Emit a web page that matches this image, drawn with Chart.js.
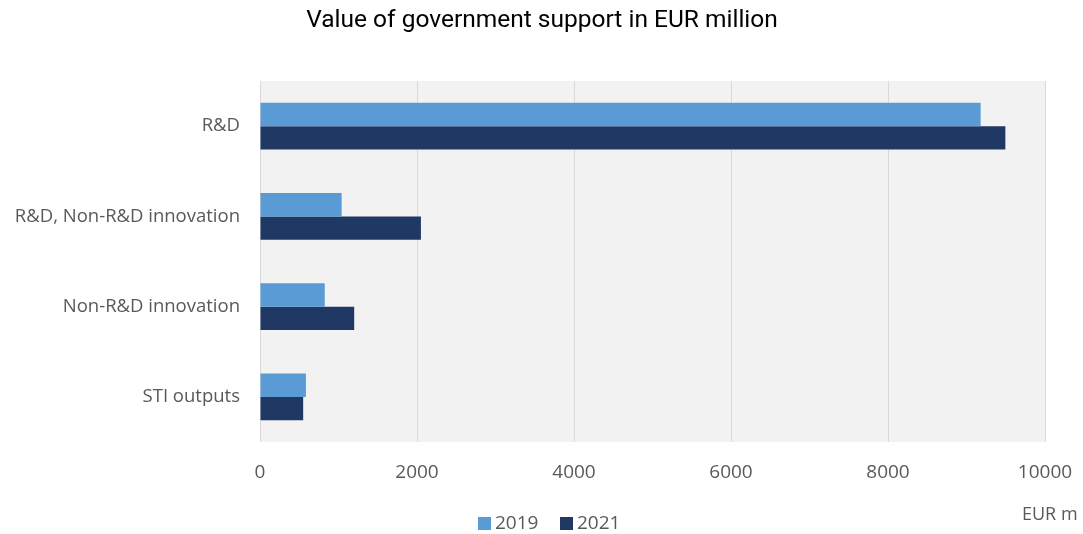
<!DOCTYPE html>
<html>
<head>
<meta charset="utf-8">
<title>Government support</title>
<script src="https://cdn.jsdelivr.net/npm/chart.js@4"></script>
<style>
  html, body { margin: 0; padding: 0; background: #fff; }
  #wrap { width: 1083px; height: 534px; position: relative; }
</style>
</head>
<body>
<div id="wrap"><canvas id="supportChart"></canvas></div>
<script>
// EUR million, per support type
var categories = ['R&D', 'R&D, Non-R&D innovation', 'Non-R&D innovation', 'STI outputs'];
var years = ['2019', '2021'];
var values2019 = [9180, 1040, 825, 585];
var values2021 = [9495, 2050, 1200, 550];
var xTicks = [0, 2000, 4000, 6000, 8000, 10000];

var colors = ['#5b9bd5', '#1f3864'];
var labelFont = "'Open Sans', 'DejaVu Sans', sans-serif";

// grey plot background
var plotBackground = {
    id: 'plotBackground',
    beforeDraw: function (chart) {
        var a = chart.chartArea, ctx = chart.ctx;
        ctx.save();
        ctx.fillStyle = '#f2f2f2';
        ctx.fillRect(a.left, a.top, a.right - a.left, a.bottom - a.top);
        ctx.restore();
    }
};

// title, legend and unit label
var extraText = {
    id: 'extraText',
    afterDraw: function (chart) {
        var ctx = chart.ctx;
        ctx.save();
        ctx.fillStyle = '#000';
        ctx.font = "24.5px 'Liberation Sans Narrow', 'Roboto', sans-serif";
        ctx.textAlign = 'center';
        ctx.textBaseline = 'middle';
        ctx.fillText('Value of government support in EUR million', 542, 21);

        ctx.fillStyle = '#595959';
        ctx.font = '18px ' + labelFont;
        ctx.textAlign = 'left';
        ctx.fillText('EUR m', 1022, 515);

        ctx.font = '19px ' + labelFont;
        var x = 478;
        chart.data.datasets.forEach(function (ds) {
            ctx.fillStyle = ds.backgroundColor;
            ctx.fillRect(x, 517, 13, 13);
            ctx.fillStyle = '#595959';
            ctx.fillText(ds.label, x + 17, 524);
            x += 82;
        });
        ctx.restore();
    }
};

var ctx = document.getElementById('supportChart').getContext('2d');
var supportChart = new Chart(ctx, {
    type: 'bar',
    data: {
        labels: categories,
        datasets: [
            { label: years[0], data: values2019, backgroundColor: colors[0] },
            { label: years[1], data: values2021, backgroundColor: colors[1] }
        ]
    },
    options: {
        indexAxis: 'y',
        responsive: true,
        maintainAspectRatio: false,
        animation: false,
        datasets: {
            bar: { categoryPercentage: 0.52, barPercentage: 1.0 }
        },
        layout: { padding: { top: 81, right: 38, bottom: 52, left: 0 } },
        scales: {
            x: {
                min: 0,
                max: 10000,
                afterBuildTicks: function (scale) {
                    scale.ticks = xTicks.map(function (v) { return { value: v }; });
                },
                afterFit: function (scale) {
                    scale.height = 40;
                    scale.paddingLeft = 0;
                    scale.paddingRight = 0;
                },
                grid: { color: '#d9d9d9', drawTicks: false },
                border: { display: false },
                ticks: {
                    color: '#595959',
                    padding: 19,
                    font: { family: labelFont, size: 19 },
                    callback: function (value) { return String(value); }
                }
            },
            y: {
                afterFit: function (scale) { scale.width = 260; },
                grid: { display: false, drawTicks: false },
                border: { display: false },
                ticks: {
                    color: '#595959',
                    padding: 20,
                    font: { family: labelFont, size: 18.5 }
                }
            }
        },
        plugins: {
            legend: { display: false },
            tooltip: { enabled: false }
        }
    },
    plugins: [plotBackground, extraText]
});
</script>
</body>
</html>
